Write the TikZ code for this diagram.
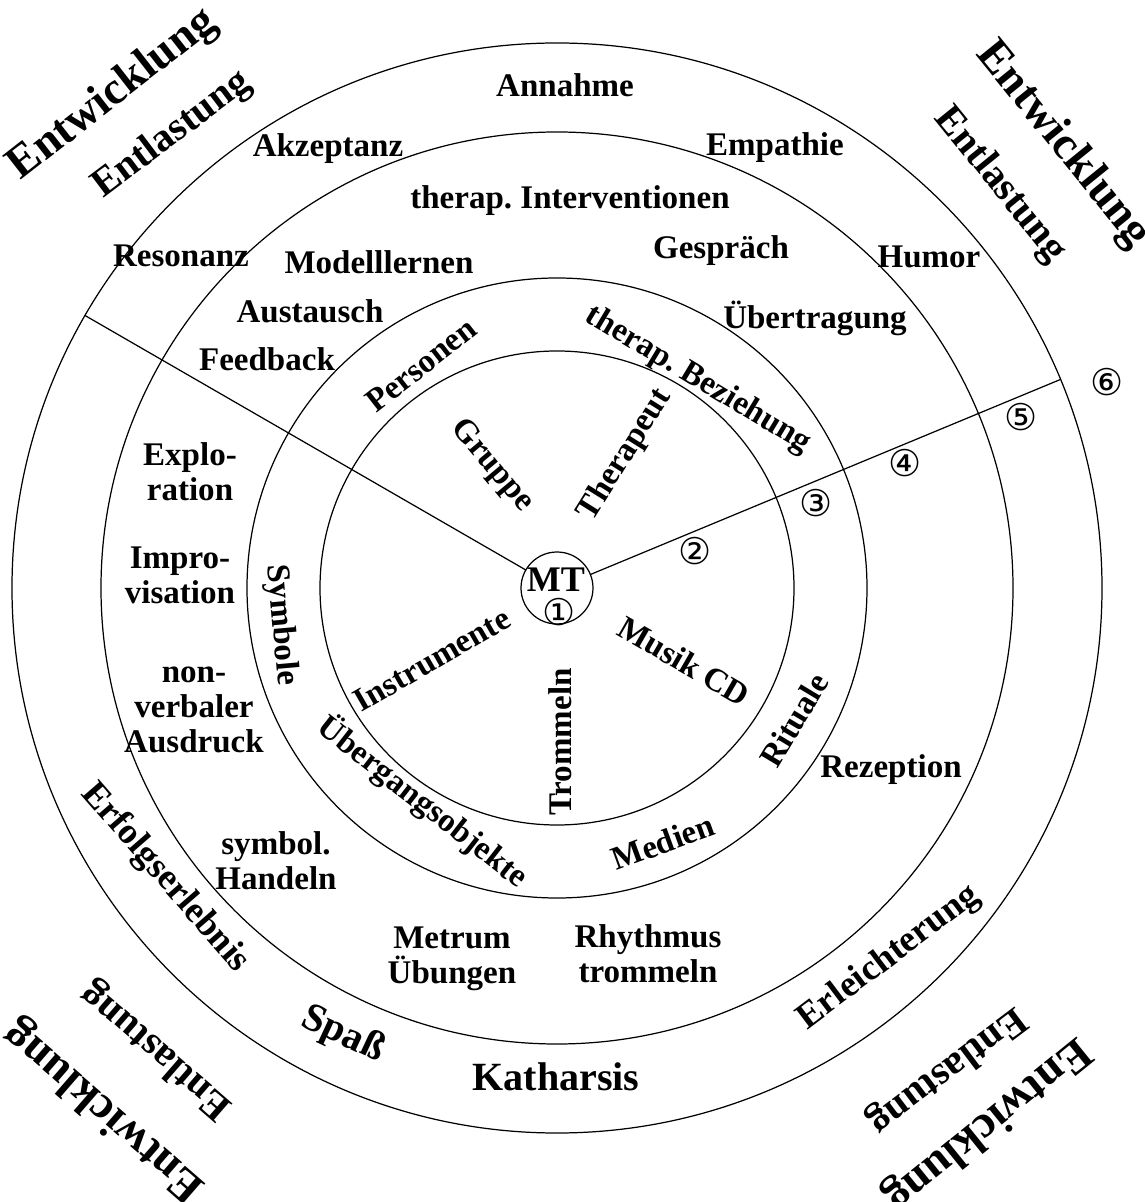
\documentclass[tikz,border=0pt]{standalone}
\usepackage{fontspec}
\setmainfont{Liberation Serif}
\newfontfamily\digitfamily{DejaVu Sans}
\newcommand\lblfont{\bfseries\fontsize{18.8}{20}\selectfont}
\newcommand\lblmidfont{\bfseries\fontsize{20.8}{22}\selectfont}
\newcommand\lblbigfont{\bfseries\fontsize{22.8}{25}\selectfont}
\newcommand\lblhugefont{\bfseries\fontsize{26.2}{29}\selectfont}
\newcommand\digitfont{\digitfamily\fontsize{21}{22}\selectfont}
\tikzset{
  lbl/.style={font=\lblfont, inner sep=0pt},
  lbltwo/.style={lbl, align=center},
  lblmid/.style={font=\lblmidfont, inner sep=0pt},
  lblbig/.style={font=\lblbigfont, inner sep=0pt},
  lblhuge/.style={font=\lblhugefont, inner sep=0pt},
  ringnum/.style={font=\digitfont, inner sep=0pt}
}
\begin{document}
\begin{tikzpicture}[x=0.02cm,y=0.02cm,line cap=round,line join=round,line width=0.7pt]
        \def\rA{237} \def\rB{310} \def\rC{456} \def\rD{545}
        \useasboundingbox (-557,-614) rectangle (587,588);
        \coordinate (M) at (0,0);
        \foreach \r in {\rA,\rB,\rC,\rD} \draw (M) circle (\r);
        \node[circle,draw,minimum size=1.44cm,inner sep=0pt,outer sep=0pt] (mt) at (M) {};
        \coordinate (endL) at (150:\rD);
        \coordinate (endR) at (22.5:\rD);
        \draw (mt.150)--(endL) (mt.22.5)--(endR);

        \node[lbl,font=\bfseries\fontsize{20.5}{22}\selectfont] (mtlabel) at (-1,8) {MT};
        \node[ringnum] (n1) at (2,-24) {①};
        \node[ringnum] (n2) at (138,37) {②};
        \node[ringnum] (n3) at (259,85) {③};
        \node[ringnum] (n4) at (348,125) {④};
        \node[ringnum] (n5) at (464,171) {⑤};
        \node[ringnum] (n6) at (550,206) {⑥};

        \node[lbl,rotate=-50] (gruppe) at (-65,122) {Gruppe};
        \node[lbl,rotate=58] (therapeut) at (68,133) {Therapeut};
        \node[lbl,rotate=30] (instrumente) at (-125,-72) {Instrumente};
        \node[lbl,rotate=90] (trommeln) at (3,-154) {Trommeln};
        \node[lbl,rotate=-30] (musikcd) at (127,-73) {Musik CD};

        \node[lbl,rotate=38] (personen) at (-136,223) {Personen};
        \node[lbl,rotate=-31] (beziehung) at (141,208) {therap.\ Beziehung};
        \node[lbl,rotate=-85] (symbole) at (-276,-37) {Symbole};
        \node[lbl,rotate=-38] (uebergang) at (-134,-214) {Übergangsobjekte};
        \node[lbl,rotate=20] (medien) at (106,-254) {Medien};
        \node[lbl,rotate=59] (rituale) at (237,-132) {Rituale};

        \node[lbl,anchor=base] (interv) at (13,379) {therap.\ Interventionen};
        \node[lbl,anchor=base] (gespraech) at (164,329) {Gespräch};
        \node[lbl,anchor=base] (modell) at (-178,314) {Modelllernen};
        \node[lbl,anchor=base] (austausch) at (-247,265) {Austausch};
        \node[lbl,anchor=base] (uebertragung) at (258,259) {Übertragung};
        \node[lbl,anchor=base] (feedback) at (-290,217) {Feedback};
        \node[lbl,anchor=base] (rezeption) at (334,-189) {Rezeption};
        \node[lbltwo] (exploration) at (-367,116) {Explo-\\ration};
        \node[lbltwo] (improvisation) at (-377,13) {Impro-\\visation};
        \node[lbltwo] (nonverbal) at (-363,-122) {non-\\verbaler\\Ausdruck};
        \node[lbltwo] (handeln) at (-281,-273) {symbol.\\Handeln};
        \node[lbltwo] (metrum) at (-105,-371) {Metrum\\Übungen};
        \node[lbltwo] (rhythmus) at (91,-366) {Rhythmus\\trommeln};

        \node[lbl,anchor=base] (annahme) at (8,491) {Annahme};
        \node[lbl,anchor=base] (akzeptanz) at (-229,431) {Akzeptanz};
        \node[lbl,anchor=base] (empathie) at (218,432) {Empathie};
        \node[lbl,anchor=base] (resonanz) at (-376,321) {Resonanz};
        \node[lbl,anchor=base] (humor) at (372,320) {Humor};
        \node[lblmid,rotate=-49] (erfolg) at (-392,-290) {Erfolgserlebnis};
        \node[lblbig,rotate=-25] (spass) at (-214,-447) {Spaß};
        \node[lblbig,anchor=base] (katharsis) at (-1,-502) {Katharsis};
        \node[lblmid,rotate=37] (erleichterung) at (332,-370) {Erleichterung};

        \node[lblhuge,rotate=38] (entwTL) at (-444,493) {Entwicklung};
        \node[lblbig,rotate=37] (entlTL) at (-385,453) {Entlastung};
        \node[lblhuge,rotate=-51] (entwTR) at (506,443) {Entwicklung};
        \node[lblbig,rotate=-51] (entlTR) at (443,403) {Entlastung};
        \node[lblbig,rotate=139] (entlBL) at (-400,-462) {Entlastung};
        \node[lblhuge,rotate=139] (entwBL) at (-452,-522) {Entwicklung};
        \node[lblbig,rotate=217] (entlBR) at (390,-482) {Entlastung};
        \node[lblhuge,rotate=219] (entwBR) at (430,-536) {Entwicklung};
      \end{tikzpicture}
\end{document}
